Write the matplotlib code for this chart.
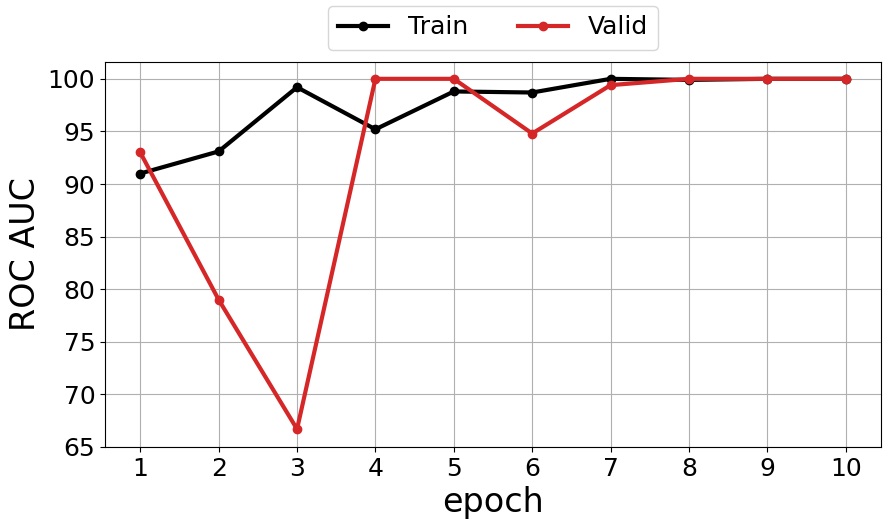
import matplotlib
matplotlib.use("Agg")
import matplotlib.pyplot as plt

epochs = [1, 2, 3, 4, 5, 6, 7, 8, 9, 10]
train = [91.0, 93.1, 99.2, 95.2, 98.8, 98.7, 100.0, 99.9, 100.0, 100.0]
valid = [93.0, 79.0, 66.7, 100.0, 100.0, 94.8, 99.4, 100.0, 100.0, 100.0]

fig = plt.figure(figsize=(8.9, 5.28), dpi=100)
ax = fig.add_axes([105/890, 1-447/528, 776/890, 385/528])
ax.plot(epochs, train, color="black", lw=3, marker="o", ms=6, label="Train")
ax.plot(epochs, valid, color="#d62728", lw=3, marker="o", ms=6, label="Valid")
ax.set_ylim(65, 101.6)
ax.set_xlim(0.55, 10.45)
ax.set_xticks(epochs)
ax.set_yticks(range(65, 101, 5))
ax.tick_params(labelsize=18)
ax.grid(True, color="#b0b0b0")
ax.set_xlabel("epoch", fontsize=24)
ax.set_ylabel("ROC AUC", fontsize=24)
ax.legend(loc="lower center", bbox_to_anchor=(0.5, 1.0), ncol=2, fontsize=18)
fig.savefig("out.png", dpi=100)
